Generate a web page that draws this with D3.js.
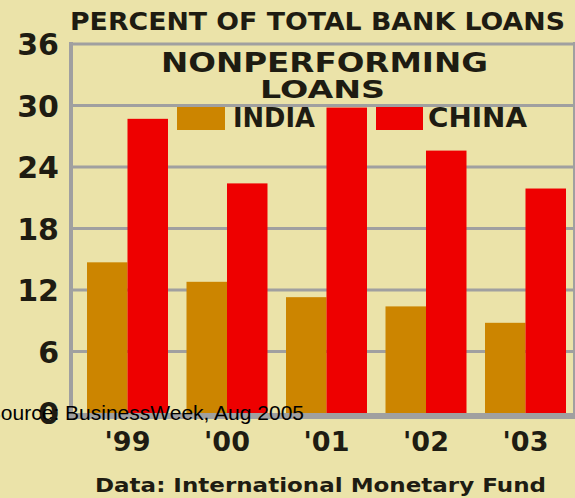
<!DOCTYPE html>
<html>
<head>
<meta charset="utf-8">
<script src="https://cdn.jsdelivr.net/npm/d3@7"></script>
<style>
  html, body { margin: 0; padding: 0; background: #ebe3a9; }
  svg { display: block; }
</style>
</head>
<body>
<div id="chart"></div>
<script>
// ---- data ----
const years = ["'99", "'00", "'01", "'02", "'03"];
const series = ["INDIA", "CHINA"];
const india = [14.7, 12.8, 11.3, 10.4, 8.8];
const china = [28.7, 22.4, 29.8, 25.6, 21.9];
const yTicks = [0, 6, 12, 18, 24, 30, 36];
const colors = ["#cc8500", "#ee0000"];
const titleText = "PERCENT OF TOTAL BANK LOANS";
const headLines = ["NONPERFORMING", "LOANS"];
const dataNote = "Data: International Monetary Fund";
const sourceNote = "Source: BusinessWeek, Aug 2005";

const W = 575, H = 498;
const svg = d3.select("#chart").append("svg").attr("width", W).attr("height", H);
svg.append("rect").attr("width", W).attr("height", H).attr("fill", "#ebe3a9");

const x = d3.scaleBand().domain(years).range([72, 574])
  .paddingInner(0.186).paddingOuter(0.1156).align(0.652);
const xSub = d3.scaleBand().domain(series).range([0, x.bandwidth()]);
const y = d3.scaleLinear().domain([0, 36]).range([413, 44]);
const color = d3.scaleOrdinal().domain(series).range(colors);

const grid = "#a0a0a0";
const ink = "#1e1c12";
const bold = "'DejaVu Sans', sans-serif";

// gridlines
svg.append("g").selectAll("line").data(yTicks.filter(t => t > 0)).join("line")
  .attr("x1", 72).attr("x2", 574)
  .attr("y1", d => y(d)).attr("y2", d => y(d))
  .attr("stroke", grid).attr("stroke-width", 3);

// bars
const rows = years.map((yr, i) => ({ year: yr, values: [india[i], china[i]] }));
const g = svg.append("g").selectAll("g").data(rows).join("g")
  .attr("transform", d => `translate(${x(d.year)},0)`);
g.selectAll("rect").data(d => d.values.map((v, j) => ({ key: series[j], v })))
  .join("rect")
  .attr("x", d => xSub(d.key))
  .attr("width", xSub.bandwidth())
  .attr("y", d => y(d.v))
  .attr("height", d => y(0) - y(d.v))
  .attr("fill", d => color(d.key));

// frame
svg.append("line").attr("x1", 71).attr("x2", 71).attr("y1", 42).attr("y2", 419)
  .attr("stroke", grid).attr("stroke-width", 4);
svg.append("line").attr("x1", 574).attr("x2", 574).attr("y1", 42).attr("y2", 419)
  .attr("stroke", grid).attr("stroke-width", 2);
svg.append("line").attr("x1", 69).attr("x2", 575).attr("y1", y(0) + 3).attr("y2", y(0) + 3)
  .attr("stroke", grid).attr("stroke-width", 6);

// y axis labels
const yAxis = d3.axisLeft(y).tickValues(yTicks).tickSize(0).tickPadding(0);
const ya = svg.append("g").attr("transform", "translate(59,0)").call(yAxis);
ya.select(".domain").remove();
ya.selectAll("text")
  .attr("font-family", bold).attr("font-weight", "bold").attr("font-size", 30)
  .attr("fill", ink).attr("dy", "0.36em");

// x axis labels
const xAxis = d3.axisBottom(x).tickSize(0).tickPadding(0);
const xa = svg.append("g").attr("transform", "translate(0,451)").call(xAxis);
xa.select(".domain").remove();
xa.selectAll("text")
  .attr("font-family", bold).attr("font-weight", "bold").attr("font-size", 27)
  .attr("fill", ink).attr("dy", 0).attr("y", 0);

// headings
function txt(s, x0, base, len, size) {
  svg.append("text").attr("x", x0).attr("y", base)
    .attr("font-family", bold).attr("font-weight", "bold").attr("font-size", size)
    .attr("fill", ink).attr("textLength", len).attr("lengthAdjust", "spacingAndGlyphs")
    .text(s);
}
txt(titleText, 70, 30, 495, 25);
txt(headLines[0], 161, 72, 327, 26);
txt(headLines[1], 260, 98, 125, 25);

// legend
const legendPos = [{ sx: 177, sw: 48, tx: 233, tl: 82 }, { sx: 376, sw: 47, tx: 428, tl: 99 }];
series.forEach((s, i) => {
  const p = legendPos[i];
  svg.append("rect").attr("x", p.sx).attr("y", 107).attr("width", p.sw).attr("height", 23)
    .attr("fill", color(s));
  txt(s, p.tx, 127, p.tl, 27);
});

txt(dataNote, 95, 492, 451, 20);

// source overlay
svg.append("text").attr("x", 304).attr("y", 420).attr("text-anchor", "end")
  .attr("font-family", "'Liberation Sans', Arial, sans-serif").attr("font-size", 21)
  .attr("fill", "#000").text(sourceNote);
</script>
</body>
</html>
